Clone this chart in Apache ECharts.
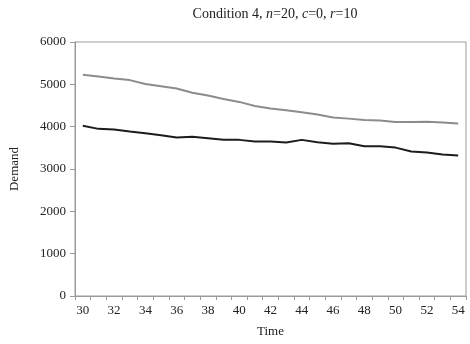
<!DOCTYPE html>
<html>
<head>
<meta charset="utf-8">
<script src="https://cdn.jsdelivr.net/npm/echarts@6/dist/echarts.min.js"></script>
<style>
  html, body { margin: 0; padding: 0; background: #fff; }
  #chart_container { width: 470px; height: 344px; }
</style>
</head>
<body>
<div id="chart_container"></div>
<script>
"strict mode";

// time periods 30..54
const timeLabels = ['30','31','32','33','34','35','36','37','38','39','40','41','42',
    '43','44','45','46','47','48','49','50','51','52','53','54'];

// upper (grey) line
const greyDemand = [5225, 5185, 5140, 5100, 5010, 4955, 4900, 4800, 4735, 4655, 4585,
    4490, 4430, 4390, 4340, 4285, 4215, 4190, 4160, 4145, 4113, 4113, 4118, 4098, 4075];

// lower (black) line
const blackDemand = [4020, 3948, 3933, 3886, 3846, 3799, 3745, 3760, 3728, 3690, 3688,
    3650, 3650, 3627, 3688, 3634, 3594, 3610, 3535, 3535, 3505, 3414, 3391, 3343, 3320];

const yTicks = [0, 1000, 2000, 3000, 4000, 5000, 6000];

const serif = '"Liberation Serif", "DejaVu Serif", serif';

let myChart;

let pageLoaded = () => {
    let chartDom = document.getElementById('chart_container');
    myChart = echarts.init(chartDom, null, { renderer: 'canvas' });

    let opt = {
        animation: false,
        backgroundColor: '#fff',
        title: {
            text: '{a|Condition 4, }{i|n}{a|=20, }{i|c}{a|=0, }{i|r}{a|=10}',
            left: 270,
            top: 2,
            textAlign: 'center',
            textStyle: {
                fontWeight: 'normal',
                rich: {
                    a: { fontFamily: serif, fontSize: 14, color: '#222', fontWeight: 'normal' },
                    i: { fontFamily: serif, fontSize: 14, color: '#222', fontWeight: 'normal', fontStyle: 'italic' },
                },
            },
        },
        grid: {
            left: 74,
            right: 4,
            top: 42,
            bottom: 48,
            show: true,
            borderColor: '#9a9a9a',
            borderWidth: 1,
        },
        xAxis: {
            type: 'category',
            data: timeLabels,
            boundaryGap: true,
            name: 'Time',
            nameLocation: 'middle',
            nameGap: 29,
            nameTextStyle: { fontFamily: serif, fontSize: 13, color: '#222' },
            axisLine: { lineStyle: { color: '#9a9a9a' } },
            axisTick: { show: true, length: 4, interval: 0, lineStyle: { color: '#9a9a9a' } },
            axisLabel: { interval: 1, fontFamily: serif, fontSize: 13, color: '#222', margin: 8 },
        },
        yAxis: {
            type: 'value',
            min: yTicks[0],
            max: yTicks[yTicks.length - 1],
            interval: 1000,
            name: 'Demand',
            nameLocation: 'middle',
            nameGap: 54,
            nameTextStyle: { fontFamily: serif, fontSize: 13, color: '#222' },
            axisLine: { show: true, lineStyle: { color: '#9a9a9a' } },
            axisTick: { show: true, length: 5, lineStyle: { color: '#9a9a9a' } },
            splitLine: { show: false },
            axisLabel: {
                fontFamily: serif, fontSize: 13, color: '#222', margin: 9,
                formatter: v => String(v),
            },
        },
        series: [
            {
                type: 'line',
                data: greyDemand,
                symbol: 'none',
                lineStyle: { color: '#8c8c8c', width: 2 },
            },
            {
                type: 'line',
                data: blackDemand,
                symbol: 'none',
                lineStyle: { color: '#1c1c1c', width: 2 },
            },
        ],
    };

    myChart.setOption(opt);
}

window.addEventListener('load', pageLoaded, false);
</script>
</body>
</html>
